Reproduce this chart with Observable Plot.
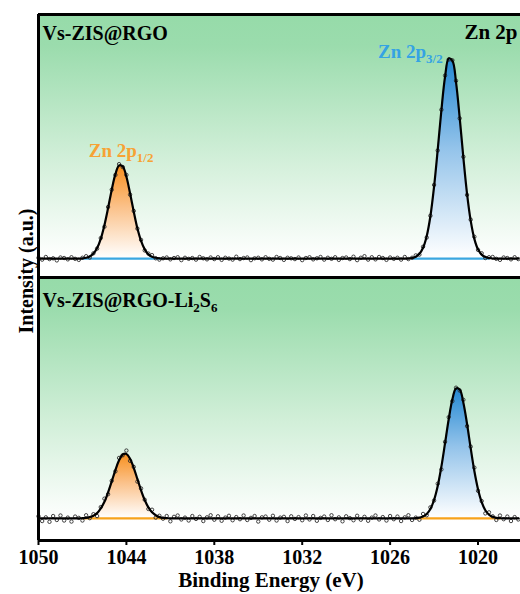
<!DOCTYPE html>
<html>
<head>
<meta charset="utf-8">
<script src="https://cdn.jsdelivr.net/npm/d3@7"></script>
<script src="https://cdn.jsdelivr.net/npm/@observablehq/plot@0.6"></script>
<style>
  html, body { margin: 0; padding: 0; background: white; }
  svg text { font-family: "Liberation Serif", "Tinos", "Times New Roman", "DejaVu Serif", serif !important; }
</style>
</head>
<body>
<div id="chart"></div>
<script>
// ---------- data ----------
const panels = ["Vs-ZIS@RGO", "Vs-ZIS@RGO-Li_{2}S_{6}"];
const tickValues = [1050, 1044, 1038, 1032, 1026, 1020];
const xDomain = [1050, 1017.1];
const energyStart = 1050, energyStep = 0.25, nPoints = 132;

const baselines = [7.2, 8.4];          // background level per panel (a.u.)

// fitted components (a.u. above background), first energy then 0.25 eV steps down
const top2p12Start = 1047.0;
const top2p12 = [0.1,0.3,0.8,1.9,4.0,7.5,12.7,19.2,26.2,32.1,35.4,35.0,31.1,24.8,17.9,11.5,6.7,3.5,1.6,0.7,0.3,0.1];
const top2p32Start = 1024.5;
const top2p32 = [0.2,0.7,1.8,4.1,8.6,16.1,27.3,41.4,56.4,69.1,76.1,75.3,67.0,53.5,38.4,24.7,14.4,7.5,3.5,1.5,0.6,0.2];
const bot2p12Start = 1047.0;
const bot2p12 = [0.1,0.2,0.5,1.0,2.0,3.8,6.3,9.9,14.1,18.4,22.1,24.3,24.5,22.7,19.2,15.0,10.7,7.0,4.2,2.3,1.2,0.5,0.2,0.1];
const bot2p32Start = 1024.25;
const bot2p32 = [0.1,0.3,0.7,1.7,3.6,7.0,12.3,19.7,28.6,37.7,45.3,49.4,49.0,44.0,36.0,26.7,18.0,11.1,6.2,3.1,1.4,0.6,0.2,0.1];

// measured points minus fit (residual scatter), 1050 eV downward in 0.25 eV steps
const topResidual = [0.3,-0.4,0.6,-0.2,0.1,-0.7,0.4,0.2,-0.3,0.5,-0.1,-0.5,
 0.2,0.6,-0.4,0.1,-0.2,0.3,-0.6,0.4,0.0,-0.3,0.5,-0.2,
 0.7,-0.5,0.2,-0.1,0.4,-0.4,0.3,0.6,-0.2,-0.5,0.1,0.4,
 -0.3,0.2,0.5,-0.6,0.3,-0.1,0.2,-0.4,0.6,0.1,-0.3,0.4,
 -0.2,0.5,-0.5,0.3,0.0,-0.4,0.7,-0.2,0.2,0.4,-0.6,0.1,
 0.3,-0.3,0.5,-0.1,-0.4,0.6,0.2,-0.5,0.3,0.1,-0.2,0.4,
 -0.6,0.2,0.5,-0.3,0.1,0.6,-0.4,0.3,-0.1,0.5,-0.5,0.2,
 0.4,-0.2,0.7,-0.6,0.3,0.9,-0.4,0.5,-0.3,0.6,0.2,-0.5,
 0.4,-0.1,0.3,-0.4,0.6,-0.2,0.1,0.5,-0.3,0.4,-0.6,0.2,
 0.7,-0.3,0.2,0.5,-0.4,0.1,0.6,-0.2,0.3,-0.5,0.4,0.8,
 -0.2,0.5,-0.4,0.3,0.6,-0.1,-0.5,0.4,0.2,-0.3,0.5,-0.2];
const botResidual = [0.8,-1.0,0.4,-1.3,0.9,-0.6,1.1,-0.8,0.3,-1.2,0.7,0.2,
 -0.9,1.0,-0.4,0.6,-1.1,0.5,1.2,-0.7,0.2,-0.5,0.9,-0.3,
 1.3,-0.8,0.4,-1.0,0.7,0.1,-0.6,1.0,-0.9,0.5,-0.3,0.8,
 -1.1,0.6,1.1,-0.4,0.3,-0.8,0.9,-0.2,0.6,-1.0,0.4,1.2,
 -0.5,0.8,-0.9,0.3,1.0,-0.7,0.5,-0.3,1.1,-0.6,0.2,0.9,
 -1.2,0.4,0.7,-0.5,1.0,-0.8,0.3,0.6,-1.0,0.8,-0.2,0.5,
 -0.7,1.1,-0.4,0.9,-0.9,0.2,0.7,-0.6,1.2,-0.3,0.4,-1.1,
 0.8,0.1,-0.7,1.0,-0.5,0.6,-0.9,0.3,1.1,-0.4,0.5,-0.8,
 0.9,-0.3,0.7,-1.0,0.4,1.2,-0.6,0.2,-0.8,1.0,-0.5,0.6,
 -0.2,0.9,-1.1,0.5,0.8,-0.7,0.3,-0.4,1.1,-0.9,0.6,1.3,
 -0.6,0.4,-1.2,0.9,0.2,-0.8,1.0,-0.3,0.7,-1.0,0.5,-0.4];

const peakLabels = ["Zn 2p_{1/2}", "Zn 2p_{3/2}"];
const coreLabel = "Zn 2p";
const xLabel = "Binding Energy (eV)";
const yLabel = "Intensity (a.u.)";

// ---------- build tables ----------
const key = e => (+e).toFixed(2);
function comp(panel, name, start, vals, base) {
  return vals.map((v, i) => ({panel, name, e: +(start - i * energyStep).toFixed(2), v, base, top: base + v}));
}
const comps = [
  comp(panels[0], "p12", top2p12Start, top2p12, baselines[0]),
  comp(panels[0], "p32", top2p32Start, top2p32, baselines[0]),
  comp(panels[1], "p12", bot2p12Start, bot2p12, baselines[1]),
  comp(panels[1], "p32", bot2p32Start, bot2p32, baselines[1])
];
const grid = d3.range(nPoints).map(i => +(energyStart - i * energyStep).toFixed(2));
function envelope(pi, compsOfPanel, residual) {
  const maps = compsOfPanel.map(c => new Map(c.map(d => [key(d.e), d.v])));
  return grid.map((e, i) => {
    const fit = baselines[pi] + d3.sum(maps, m => m.get(key(e)) || 0);
    return {panel: panels[pi], e, fit, raw: fit + residual[i]};
  });
}
const env = [
  ...envelope(0, [comps[0], comps[1]], topResidual),
  ...envelope(1, [comps[2], comps[3]], botResidual)
];
const areaData12 = [...comps[0], ...comps[2]];
const areaData32 = [...comps[1], ...comps[3]];
const segs = comps.map(c => [
  {panel: c[0].panel, name: c[0].name, e: c[0].e, b: c[0].base},
  {panel: c[0].panel, name: c[0].name, e: c[c.length - 1].e, b: c[0].base}
]);
const segTop = [...segs[0], ...segs[1]];
const segBot = [...segs[2], ...segs[3]];

const peak12 = d3.greatest(comps[0], d => d.v);
const peak32 = d3.greatest(comps[1], d => d.v);
const labelRows = [
  {panel: panels[0], e: peak12.e, y: peak12.top, text: peakLabels[0]},
  {panel: panels[0], e: peak32.e, y: peak32.top, text: peakLabels[1]}
];

const serif = "Liberation Serif, Tinos, Times New Roman, DejaVu Serif, serif";
const ORANGE = "#f7a234", BLUE = "#35a3e3";

const chart = Plot.plot({
  width: 520, height: 594,
  marginTop: 13, marginBottom: 54, marginLeft: 38, marginRight: 0,
  style: {fontFamily: serif, fontWeight: "bold", fontSize: "20px", color: "black", background: "white", overflow: "visible"},
  x: {domain: xDomain},
  y: {domain: [0, 100], axis: null},
  fy: {domain: panels, axis: null, padding: 0},
  marks: [
    Plot.frame({fill: "url(#bgGrad)", stroke: "none"}),
    Plot.areaY(areaData12, {fy: "panel", x: "e", y1: "base", y2: "top", z: "panel", curve: "catmull-rom", fill: "url(#orangeGrad)"}),
    Plot.areaY(areaData32, {fy: "panel", x: "e", y1: "base", y2: "top", z: "panel", curve: "catmull-rom", fill: "url(#blueGrad)"}),
    Plot.line(segTop, {fy: "panel", x: "e", y: "b", z: "name", stroke: "#3aa6e0", strokeWidth: 2.2}),
    Plot.line(segBot, {fy: "panel", x: "e", y: "b", z: "name", stroke: "#f7a21b", strokeWidth: 2.2}),
    Plot.dot(env, {fy: "panel", x: "e", y: "raw", r: 1.7, stroke: "#2e2e2e", strokeWidth: 0.9, fill: "none"}),
    Plot.line(env, {fy: "panel", x: "e", y: "fit", z: "panel", curve: "catmull-rom", stroke: "black", strokeWidth: 2.2}),
    Plot.ruleY([100], {stroke: "black", strokeWidth: 3}),
    Plot.ruleY([0], {stroke: "black", strokeWidth: 3}),
    Plot.ruleX([xDomain[0]], {stroke: "black", strokeWidth: 3}),
    Plot.text([panels[0]], {fy: d => d, text: d => d, frameAnchor: "top-left", dx: 4, dy: 11, fontSize: 20, fontWeight: "bold", fill: "black"}),
    Plot.text([panels[1]], {fy: d => d, text: d => d, frameAnchor: "top-left", dx: 4, dy: 15, fontSize: 20, fontWeight: "bold", fill: "black"}),
    Plot.text([panels[0]], {fy: d => d, text: () => coreLabel, frameAnchor: "top-right", dx: -3, dy: 10, fontSize: 21, fontWeight: "bold", fill: "black"}),
    Plot.text([labelRows[0]], {fy: "panel", x: "e", y: "y", text: "text", textAnchor: "middle", dx: 2, dy: -15, fontSize: 19, fontWeight: "bold", fill: ORANGE}),
    Plot.text([labelRows[1]], {fy: "panel", x: "e", y: "y", text: "text", textAnchor: "end", dx: -6, dy: -7, fontSize: 19, fontWeight: "bold", fill: BLUE}),
    Plot.axisX({ticks: tickValues, tickFormat: d => String(d), tickSize: 5, tickPadding: 4, strokeWidth: 2, fontSize: 20, fontWeight: "bold", label: null})
  ]
});

document.getElementById("chart").appendChild(chart);
const svg = d3.select(chart.tagName.toLowerCase() === "svg" ? chart : chart.querySelector("svg"));

// gradients
const defs = svg.insert("defs", ":first-child");
function grad(id, stops) {
  const g = defs.append("linearGradient").attr("id", id).attr("x1", 0).attr("y1", 0).attr("x2", 0).attr("y2", 1);
  stops.forEach(([o, c]) => g.append("stop").attr("offset", o).attr("stop-color", c));
}
grad("bgGrad", [[0, "#96dba9"], [0.12, "#9bdcad"], [0.55, "#d2efd9"], [0.93, "#ffffff"], [1, "#ffffff"]]);
grad("orangeGrad", [[0, "#f78f1c"], [0.45, "#fbc189"], [1, "#ffffff"]]);
grad("blueGrad", [[0, "#2388d2"], [0.45, "#93c3ea"], [1, "#ffffff"]]);

// subscripts written as _{...}
svg.selectAll("text").each(function () {
  const s = this.textContent;
  if (!s.includes("_{")) return;
  const fs = parseFloat(this.getAttribute("font-size")) || 20;
  const subSize = Math.round(fs * 0.66), shift = Math.round(fs * 0.25);
  const parts = s.split(/(_\{[^}]*\})/).filter(p => p);
  this.textContent = "";
  let inSub = false;
  for (const p of parts) {
    const m = p.match(/^_\{(.*)\}$/);
    const ts = d3.select(this).append("tspan").text(m ? m[1] : p);
    if (m) { ts.attr("font-size", subSize).attr("dy", shift); inSub = true; }
    else if (inSub) { ts.attr("dy", -shift); inSub = false; }
  }
});

// axis titles
svg.append("text").attr("x", 271).attr("y", 587).attr("text-anchor", "middle")
  .attr("font-size", 21).attr("font-weight", "bold").attr("fill", "black").text(xLabel);
svg.append("text").attr("transform", "translate(33,271) rotate(-90)").attr("text-anchor", "middle")
  .attr("font-size", 20).attr("font-weight", "bold").attr("fill", "black").text(yLabel);
</script>
</body>
</html>
